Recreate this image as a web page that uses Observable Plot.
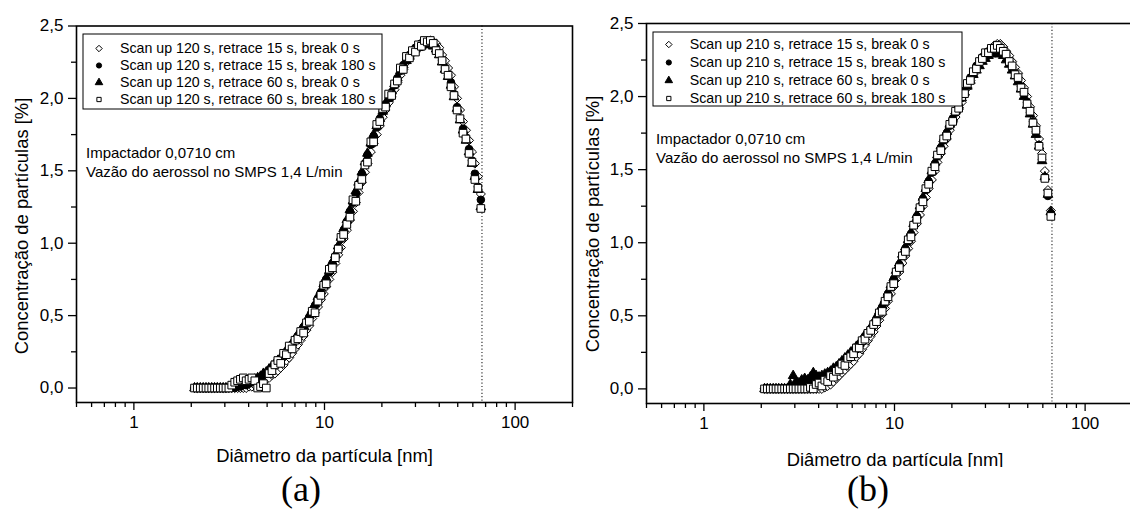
<!DOCTYPE html>
<html>
<head>
<meta charset="utf-8">
<script src="https://cdn.jsdelivr.net/npm/d3@7"></script>
<script src="https://cdn.jsdelivr.net/npm/@observablehq/plot@0.6"></script>
<style>
  html, body { margin: 0; padding: 0; background: #fff; overflow: hidden; }
  #fig { position: relative; width: 1130px; height: 509px; overflow: hidden; background: #fff;
         font-family: "Liberation Sans", Arial, sans-serif; color: #000; }
  #fig svg { position: absolute; overflow: visible; }
  .abs { position: absolute; white-space: nowrap; }
  .ytitle { width: 320px; text-align: center; font-size: 18.4px; line-height: 18px; transform: rotate(-90deg); }
  .xtitle { width: 320px; text-align: center; font-size: 18.4px; line-height: 18px; }
  .note { font-size: 15px; line-height: 19px; }
  .tag { width: 100px; text-align: center; font-family: "Liberation Serif", "Times New Roman", serif; font-size: 36px; line-height: 30px; }
</style>
</head>
<body>
<div id="fig"></div>
<script>
// SMPS channel mid-point diameters [nm]
const diameter = [2.08, 2.15, 2.23, 2.31, 2.39, 2.47, 2.56, 2.65, 2.74, 2.84, 2.94, 3.04, 3.15, 3.26, 3.38, 3.50,
  3.62, 3.75, 3.88, 4.02, 4.16, 4.31, 4.46, 4.62, 4.78, 4.95, 5.12, 5.30, 5.49, 5.69, 5.89, 6.10, 6.31, 6.53,
  6.76, 7.00, 7.25, 7.50, 7.77, 8.04, 8.32, 8.62, 8.92, 9.24, 9.57, 9.91, 10.2, 10.6, 11.0, 11.4, 11.8, 12.2,
  12.6, 13.1, 13.6, 14.1, 14.6, 15.1, 15.7, 16.3, 16.8, 17.5, 18.1, 18.8, 19.5, 20.2, 20.9, 21.7, 22.5, 23.3,
  24.1, 25.0, 25.9, 26.9, 27.9, 28.9, 30.0, 31.1, 32.2, 33.4, 34.6, 35.9, 37.2, 38.5, 40.0, 41.4, 42.9, 44.5,
  46.1, 47.8, 49.6, 51.4, 53.3, 55.2, 57.3, 59.4, 61.5, 63.8, 66.1];

// (a) Scan up 120 s — particle concentration [%]
const up120_r15_b0 = [0,0,0,0,0,0,0,0,0,0,0,0,0, 0,0,0,0,0,0,0.01,0.01,0.02,
  0.03,0.04,0.05,0.06,0.07,0.09,0.10,0.12,0.14,0.16,
  0.19,0.21,0.24,0.27,0.30,0.33,0.36,0.40,0.43,0.48,
  0.52,0.56,0.61,0.65,0.70,0.75,0.80,0.86,0.92,0.97,
  1.03,1.09,1.16,1.22,1.28,1.35,1.42,1.49,1.55,1.63,
  1.69,1.75,1.81,1.87,1.92,1.97,2.01,2.06,2.11,2.16,
  2.20,2.25,2.28,2.31,2.34,2.36,2.37,2.38,2.39,2.40,
  2.39,2.38,2.35,2.30,2.26,2.21,2.16,2.08,2.00,1.92,
  1.84,1.78,1.71,1.63,1.55,1.46,1.34];
const up120_r15_b180 = [0,0,0,0,0,0,0,0,0,0,0,0,0, 0,0,0.01,0.01,0.02,0.02,0.03,0.04,0.05,
  0.06,0.07,0.09,0.10,0.12,0.14,0.16,0.18,0.20,0.22,
  0.25,0.27,0.30,0.33,0.35,0.38,0.42,0.45,0.49,0.53,
  0.57,0.62,0.66,0.71,0.75,0.80,0.86,0.91,0.97,1.03,
  1.09,1.15,1.22,1.28,1.34,1.41,1.48,1.55,1.61,1.68,
  1.74,1.80,1.86,1.91,1.96,2.00,2.04,2.09,2.14,2.19,
  2.23,2.27,2.30,2.33,2.35,2.37,2.38,2.39,2.39,2.38,
  2.37,2.35,2.31,2.26,2.21,2.16,2.11,2.03,1.94,1.86,
  1.79,1.73,1.65,1.57,1.48,1.39,1.30];
const up120_r60_b0 = [0,0,0,0,0,0,0,0,0,0,0,0,0, 0.01,0.02,0.02,0.03,0.03,0.04,0.04,0.05,0.06,
  0.07,0.08,0.10,0.11,0.13,0.15,0.17,0.19,0.21,0.23,
  0.26,0.28,0.31,0.34,0.37,0.40,0.43,0.46,0.50,0.54,
  0.58,0.63,0.67,0.72,0.76,0.81,0.87,0.92,0.98,1.04,
  1.10,1.16,1.23,1.29,1.36,1.42,1.49,1.56,1.62,1.69,
  1.75,1.81,1.86,1.91,1.96,2.00,2.05,2.10,2.14,2.19,
  2.23,2.26,2.29,2.32,2.34,2.35,2.36,2.37,2.37,2.37,
  2.36,2.34,2.30,2.25,2.20,2.15,2.09,2.01,1.93,1.85,
  1.78,1.71,1.63,1.55,1.46,1.37,1.25];
const up120_r60_b180 = [0,0,0,0,0,0,0,0,0,0,0,0,0, 0.02,0.04,0.05,0.06,0.07,0.05,0.06,0.07,0.05,
  0.00,0.01,0.03,0.00,0.10,0.12,0.16,0.19,0.17,0.24,
  0.23,0.29,0.27,0.33,0.34,0.39,0.38,0.45,0.46,0.53,
  0.52,0.60,0.64,0.71,0.72,0.82,0.83,0.90,0.96,1.04,
  1.06,1.13,1.18,1.30,1.29,1.40,1.44,1.54,1.56,1.70,
  1.70,1.82,1.84,1.93,1.94,2.03,2.02,2.10,2.12,2.21,
  2.20,2.29,2.28,2.33,2.32,2.37,2.36,2.40,2.39,2.40,
  2.38,2.33,2.31,2.26,2.20,2.16,2.08,2.02,1.92,1.86,
  1.76,1.72,1.62,1.56,1.44,1.38,1.24];

// (b) Scan up 210 s — particle concentration [%]
const up210_r15_b0 = [0,0,0,0,0,0,0,0,0,0,0,0,0,0,0,0,0,0,0,0,0, 0.01,
  0.02,0.03,0.05,0.07,0.09,0.11,0.13,0.15,0.17,0.19,
  0.22,0.24,0.27,0.30,0.33,0.36,0.39,0.43,0.47,0.51,
  0.55,0.60,0.65,0.70,0.75,0.80,0.86,0.91,0.96,1.01,
  1.07,1.13,1.19,1.25,1.31,1.37,1.43,1.49,1.55,1.61,
  1.66,1.71,1.77,1.82,1.86,1.91,1.96,2.01,2.06,2.11,
  2.15,2.19,2.23,2.26,2.29,2.31,2.33,2.35,2.36,2.36,
  2.34,2.31,2.28,2.24,2.20,2.16,2.11,2.06,2.00,1.93,
  1.87,1.80,1.71,1.61,1.49,1.36,1.22];
const up210_r15_b180 = [0,0,0,0,0,0,0,0,0,0,0,0,0, 0.01,0.02,0.03,0.03,0.04,0.05,0.06,0.07,0.08,
  0.10,0.11,0.13,0.14,0.16,0.18,0.20,0.21,0.23,0.25,
  0.27,0.30,0.32,0.35,0.38,0.41,0.44,0.48,0.52,0.56,
  0.60,0.65,0.70,0.75,0.80,0.85,0.91,0.96,1.01,1.06,
  1.12,1.18,1.24,1.30,1.36,1.42,1.48,1.54,1.59,1.65,
  1.70,1.75,1.80,1.85,1.89,1.94,1.99,2.04,2.08,2.13,
  2.17,2.21,2.24,2.27,2.29,2.31,2.32,2.33,2.33,2.33,
  2.31,2.28,2.24,2.20,2.16,2.12,2.07,2.02,1.96,1.89,
  1.83,1.76,1.67,1.57,1.45,1.32,1.20];
const up210_r60_b0 = [0,0,0,0,0,0,0,0,0, 0.03,0.09,0.05,0.04,0.06,0.07,0.06,0.08,0.11,0.09,0.08,0.09,0.10,
  0.11,0.12,0.14,0.15,0.17,0.19,0.21,0.23,0.25,0.27,
  0.29,0.31,0.34,0.37,0.39,0.42,0.45,0.49,0.53,0.57,
  0.61,0.66,0.71,0.76,0.81,0.86,0.92,0.97,1.02,1.07,
  1.13,1.19,1.25,1.31,1.37,1.43,1.49,1.55,1.60,1.66,
  1.71,1.76,1.81,1.85,1.90,1.94,1.99,2.03,2.07,2.11,
  2.15,2.18,2.21,2.24,2.26,2.28,2.29,2.30,2.30,2.29,
  2.28,2.25,2.22,2.18,2.14,2.10,2.05,2.00,1.94,1.88,
  1.81,1.74,1.66,1.56,1.45,1.33,1.21];
const up210_r60_b180 = [0,0,0,0,0,0,0,0,0,0,0,0,0,0,0,0, 0.01,0.00,0.03,0.04,0.02,0.06,
  0.05,0.09,0.08,0.12,0.13,0.17,0.16,0.21,0.22,0.24,
  0.28,0.28,0.33,0.34,0.38,0.40,0.44,0.46,0.52,0.53,
  0.60,0.63,0.70,0.72,0.80,0.83,0.91,0.94,1.02,1.04,
  1.12,1.16,1.24,1.28,1.37,1.40,1.49,1.52,1.60,1.63,
  1.71,1.73,1.81,1.83,1.90,1.92,2.00,2.02,2.09,2.11,
  2.17,2.19,2.24,2.26,2.30,2.30,2.33,2.33,2.35,2.33,
  2.31,2.29,2.24,2.21,2.15,2.13,2.06,2.03,1.95,1.90,
  1.82,1.77,1.66,1.58,1.44,1.34,1.18];

// Legend entries
const legendA = ["Scan up 120 s, retrace 15 s, break 0 s", "Scan up 120 s, retrace 15 s, break 180 s",
                 "Scan up 120 s, retrace 60 s, break 0 s", "Scan up 120 s, retrace 60 s, break 180 s"];
const legendB = ["Scan up 210 s, retrace 15 s, break 0 s", "Scan up 210 s, retrace 15 s, break 180 s",
                 "Scan up 210 s, retrace 60 s, break 0 s", "Scan up 210 s, retrace 60 s, break 180 s"];

// Axis ticks
const xMajorTicks = [1, 10, 100];
const xMinorTicks = [0.5, 0.6, 0.7, 0.8, 0.9, 2, 3, 4, 5, 6, 7, 8, 9, 20, 30, 40, 50, 60, 70, 80, 90, 200];
const yMajorTicks = [0, 0.5, 1.0, 1.5, 2.0, 2.5];
const yMinorTicks = [0.25, 0.75, 1.25, 1.75, 2.25];
const cutoffDiameter = 67; // impactor cut-off [nm]

// Marker style per series: open diamond, filled circle, filled triangle, open square
const markers = [
  {symbol: "diamond2", r: 4.1, fill: "white"},
  {symbol: "circle",   r: 3.8, fill: "black"},
  {symbol: "triangle", r: 3.6, fill: "black"},
  {symbol: "square",   r: 4.3, fill: "white"}
];
const legendMarkers = [
  {symbol: "diamond2", r: 2.9, fill: "white"},
  {symbol: "circle",   r: 2.6, fill: "black"},
  {symbol: "triangle", r: 2.8, fill: "black"},
  {symbol: "square",   r: 2.4, fill: "white"}
];

const fig = document.getElementById("fig");
const comma = d => d.toFixed(1).replace(".", ",");

function panel(series, {left, top, height, marginTop}) {
  const marks = [
    Plot.axisX({ticks: xMinorTicks, tickSize: 5, tickFormat: () => "", label: null, strokeWidth: 1.3}),
    Plot.axisX({ticks: xMajorTicks, tickSize: 8, tickPadding: 5, tickFormat: d => String(d), label: null, strokeWidth: 1.3}),
    Plot.axisY({ticks: yMinorTicks, tickSize: 5, tickFormat: () => "", label: null, strokeWidth: 1.3}),
    Plot.axisY({ticks: yMajorTicks, tickSize: 8, tickPadding: 5, tickFormat: comma, label: null, strokeWidth: 1.3}),
    Plot.ruleX([cutoffDiameter], {stroke: "#333", strokeWidth: 1.2, strokeDasharray: "1.2,2.2"})
  ];
  series.forEach((values, k) => {
    const rows = diameter.map((d, i) => ({d, v: values[i]})).filter(r => r.v !== undefined);
    marks.push(Plot.dot(rows, {x: "d", y: "v", symbol: markers[k].symbol, r: markers[k].r,
      fill: markers[k].fill, stroke: "black", strokeWidth: 1}));
  });
  marks.push(Plot.frame({stroke: "black", strokeWidth: 1.6}));
  const svg = Plot.plot({
    width: 600, height,
    marginLeft: 76, marginRight: 28, marginTop, marginBottom: 38,
    style: {fontFamily: "'Liberation Sans', Arial, sans-serif", fontSize: "17px", color: "black", background: "transparent"},
    x: {type: "log", domain: [0.5, 200]},
    y: {domain: [-0.1, 2.5]},
    marks
  });
  svg.style.left = left + "px";
  svg.style.top = top + "px";
  fig.appendChild(svg);
}

function legend(labels, {left, top, width, height, rows, symX, textX}) {
  const marks = [Plot.frame({stroke: "black", strokeWidth: 1, inset: 0.5})];
  labels.forEach((label, k) => {
    marks.push(Plot.dot([label], {y: d => d, frameAnchor: "left", dx: symX,
      symbol: legendMarkers[k].symbol, r: legendMarkers[k].r, fill: legendMarkers[k].fill,
      stroke: "black", strokeWidth: 1}));
  });
  marks.push(Plot.text(labels, {y: d => d, frameAnchor: "left", dx: textX, textAnchor: "start",
    fontSize: 14.2, fill: "black"}));
  const svg = Plot.plot({
    width, height, margin: 0,
    style: {fontFamily: "'Liberation Sans', Arial, sans-serif", color: "black", background: "white"},
    x: {domain: [0, 1], axis: null},
    y: {type: "point", domain: labels, range: rows, padding: 0, axis: null},
    marks
  });
  svg.style.left = left + "px";
  svg.style.top = top + "px";
  fig.appendChild(svg);
}

function label(text, cls, css) {
  const el = document.createElement("div");
  el.className = "abs " + cls;
  el.textContent = text;
  Object.assign(el.style, css);
  fig.appendChild(el);
  return el;
}

// Panel (a)
panel([up120_r15_b0, up120_r15_b180, up120_r60_b0, up120_r60_b180],
      {left: 0, top: 0, height: 440, marginTop: 25.5});
legend(legendA, {left: 82, top: 33, width: 300, height: 76, rows: [15, 66.3], symX: 16.5, textX: 37.5});
// Panel (b)
panel([up210_r15_b0, up210_r15_b180, up210_r60_b0, up210_r60_b180],
      {left: 570, top: 0, height: 441, marginTop: 23});
legend(legendB, {left: 652, top: 31, width: 310, height: 75, rows: [12.5, 66.5], symX: 16.3, textX: 37.3});

// Annotations
const noteLines = ["Impactador 0,0710 cm", "Vazão do aerossol no SMPS 1,4 L/min"];
label(noteLines[0], "note", {left: "86px", top: "143px"});
label(noteLines[1], "note", {left: "86px", top: "162px"});
label(noteLines[0], "note", {left: "656px", top: "129px"});
label(noteLines[1], "note", {left: "656px", top: "148px"});

// Axis titles
const yTitle = "Concentração de partículas [%]";
const xTitle = "Diâmetro da partícula [nm]";
label(yTitle, "ytitle", {left: (22 - 160) + "px", top: (226 - 9) + "px"});
label(yTitle, "ytitle", {left: (593 - 160) + "px", top: (224 - 9) + "px"});
label(xTitle, "xtitle", {left: (324.5 - 160) + "px", top: "446.5px"});
label(xTitle, "xtitle", {left: (895 - 160) + "px", top: "451px", height: "16px", overflow: "hidden"});

// Panel tags
label("(a)", "tag", {left: (301 - 50) + "px", top: "474px"});
label("(b)", "tag", {left: (868 - 50) + "px", top: "474px"});
</script>
</body>
</html>
